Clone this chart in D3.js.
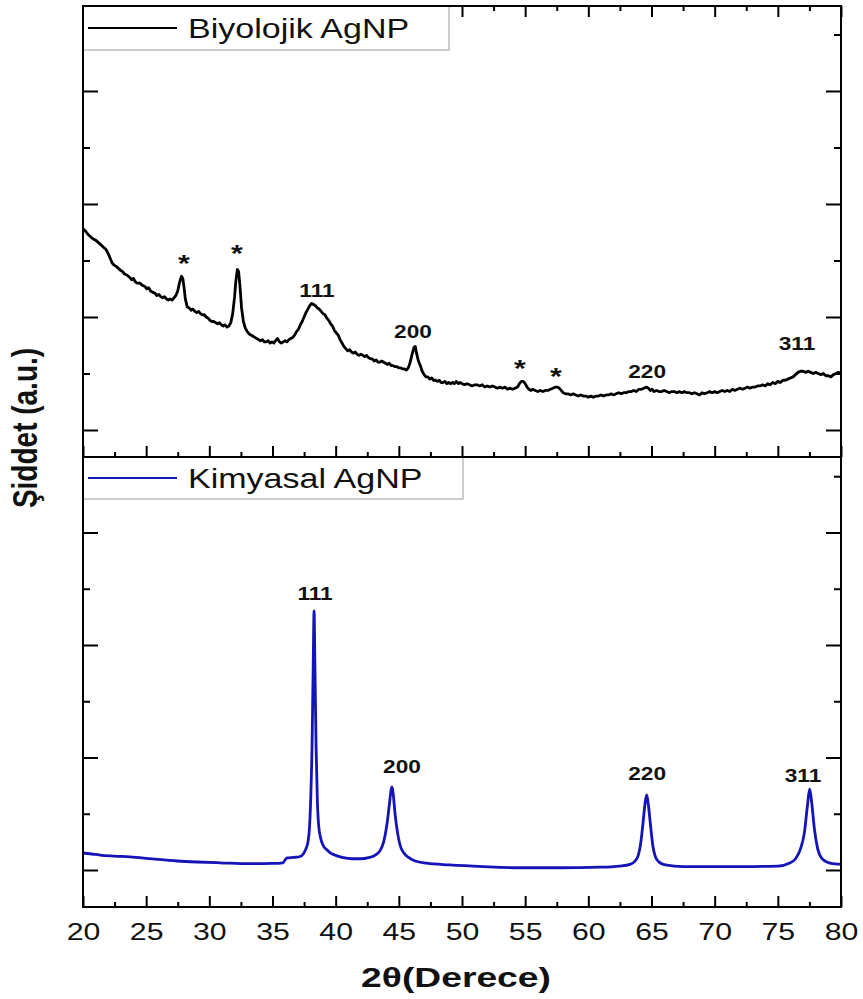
<!DOCTYPE html>
<html>
<head>
<meta charset="utf-8">
<script src="https://cdn.jsdelivr.net/npm/d3@7"></script>
<style>
  body { margin: 0; background: #fff; }
  svg { display: block; font-family: "Liberation Sans", Arial, sans-serif; }
</style>
</head>
<body>
<svg id="chart"></svg>
<script>
// biological AgNP pattern: [2theta, intensity a.u.]
const bioPattern = [
[20.0,1.78],[20.2,1.76],[20.4,1.73],[20.6,1.71],[20.8,1.69],[21.0,1.68],[21.2,1.66],[21.4,1.64],[21.6,1.62],[21.8,1.60],
[22.0,1.56],[22.15,1.52],[22.3,1.48],[22.45,1.46],[22.6,1.45],[22.8,1.43],[23.0,1.41],[23.15,1.40],[23.3,1.38],[23.5,1.37],
[23.7,1.35],[23.85,1.33],[24.0,1.34],[24.15,1.31],[24.3,1.30],[24.5,1.30],[24.7,1.28],[24.9,1.27],[25.05,1.25],[25.2,1.26],
[25.35,1.23],[25.5,1.22],[25.7,1.21],[25.85,1.19],[26.0,1.20],[26.15,1.18],[26.3,1.17],[26.45,1.18],[26.6,1.16],[26.75,1.15],
[26.9,1.16],[27.05,1.15],[27.2,1.17],[27.35,1.19],[27.5,1.23],[27.65,1.31],[27.8,1.36],[27.9,1.34],[28.0,1.26],[28.1,1.16],
[28.25,1.09],[28.4,1.08],[28.55,1.06],[28.7,1.07],[28.85,1.05],[29.0,1.04],[29.15,1.05],[29.3,1.03],[29.45,1.02],[29.6,1.02],
[29.75,1.00],[29.9,0.99],[30.05,0.97],[30.2,0.96],[30.35,0.96],[30.5,0.95],[30.65,0.94],[30.8,0.95],[30.95,0.93],[31.1,0.92],
[31.25,0.93],[31.4,0.91],[31.55,0.92],[31.7,0.95],[31.85,1.03],[32.0,1.18],[32.1,1.32],[32.22,1.42],[32.32,1.40],[32.42,1.28],
[32.55,1.08],[32.7,0.96],[32.85,0.90],[33.0,0.87],[33.15,0.85],[33.3,0.84],[33.45,0.83],[33.6,0.82],[33.75,0.81],[33.9,0.80],
[34.05,0.79],[34.2,0.80],[34.35,0.78],[34.5,0.78],[34.65,0.79],[34.8,0.77],[34.95,0.78],[35.1,0.77],[35.25,0.79],[35.4,0.81],
[35.55,0.78],[35.7,0.77],[35.85,0.78],[36.0,0.79],[36.15,0.78],[36.3,0.80],[36.45,0.81],[36.6,0.82],[36.75,0.84],[36.9,0.87],
[37.05,0.89],[37.2,0.93],[37.35,0.96],[37.5,1.00],[37.65,1.04],[37.8,1.07],[37.95,1.10],[38.1,1.12],[38.25,1.11],[38.4,1.10],
[38.55,1.08],[38.7,1.07],[38.85,1.05],[39.0,1.03],[39.15,1.02],[39.3,0.99],[39.45,0.97],[39.6,0.94],[39.75,0.92],[39.9,0.88],
[40.05,0.86],[40.2,0.84],[40.35,0.80],[40.5,0.77],[40.65,0.74],[40.8,0.72],[40.95,0.70],[41.1,0.71],[41.25,0.69],[41.4,0.68],
[41.55,0.69],[41.7,0.67],[41.85,0.66],[42.0,0.67],[42.15,0.66],[42.3,0.65],[42.45,0.66],[42.6,0.64],[42.75,0.63],[42.9,0.63],
[43.05,0.61],[43.2,0.62],[43.35,0.60],[43.5,0.60],[43.65,0.61],[43.8,0.60],[43.95,0.59],[44.1,0.58],[44.25,0.59],[44.4,0.57],
[44.55,0.57],[44.7,0.56],[44.85,0.56],[45.0,0.55],[45.15,0.55],[45.3,0.54],[45.45,0.54],[45.6,0.53],[45.75,0.55],[45.9,0.60],
[46.05,0.67],[46.2,0.73],[46.3,0.74],[46.4,0.68],[46.55,0.61],[46.7,0.57],[46.85,0.52],[47.0,0.49],[47.15,0.47],[47.3,0.47],
[47.45,0.45],[47.6,0.46],[47.75,0.44],[47.9,0.44],[48.05,0.43],[48.2,0.44],[48.35,0.42],[48.5,0.42],[48.65,0.43],[48.8,0.41],
[48.95,0.42],[49.1,0.41],[49.25,0.42],[49.4,0.41],[49.55,0.43],[49.7,0.41],[49.85,0.42],[50.0,0.41],[50.2,0.40],[50.4,0.41],
[50.6,0.40],[50.8,0.39],[51.0,0.40],[51.2,0.40],[51.4,0.39],[51.6,0.40],[51.8,0.38],[52.0,0.39],[52.2,0.38],[52.4,0.39],
[52.6,0.38],[52.8,0.37],[53.0,0.38],[53.2,0.37],[53.4,0.38],[53.6,0.36],[53.8,0.37],[54.0,0.36],[54.2,0.37],[54.4,0.38],
[54.55,0.41],[54.7,0.43],[54.85,0.43],[55.0,0.41],[55.15,0.38],[55.3,0.36],[55.45,0.35],[55.6,0.36],[55.8,0.35],[56.0,0.34],
[56.2,0.35],[56.4,0.34],[56.6,0.35],[56.8,0.35],[57.0,0.36],[57.2,0.37],[57.4,0.38],[57.55,0.38],[57.7,0.37],[57.85,0.35],
[58.0,0.33],[58.2,0.32],[58.4,0.32],[58.6,0.31],[58.8,0.32],[59.0,0.31],[59.2,0.30],[59.4,0.31],[59.6,0.30],[59.8,0.30],
[60.0,0.29],[60.2,0.30],[60.4,0.29],[60.6,0.30],[60.8,0.30],[61.0,0.31],[61.2,0.30],[61.4,0.31],[61.6,0.31],[61.8,0.32],
[62.0,0.31],[62.2,0.32],[62.4,0.33],[62.6,0.32],[62.8,0.33],[63.0,0.33],[63.2,0.34],[63.4,0.34],[63.6,0.35],[63.8,0.34],
[64.0,0.36],[64.2,0.36],[64.4,0.37],[64.6,0.38],[64.75,0.37],[64.9,0.35],[65.05,0.36],[65.2,0.34],[65.4,0.35],[65.6,0.34],
[65.8,0.34],[66.0,0.35],[66.2,0.34],[66.4,0.33],[66.6,0.34],[66.8,0.34],[67.0,0.33],[67.2,0.34],[67.4,0.33],[67.6,0.34],
[67.8,0.33],[68.0,0.33],[68.2,0.32],[68.4,0.33],[68.6,0.32],[68.8,0.31],[69.0,0.33],[69.2,0.32],[69.4,0.33],[69.6,0.34],
[69.8,0.33],[70.0,0.34],[70.2,0.33],[70.4,0.34],[70.6,0.35],[70.8,0.34],[71.0,0.35],[71.2,0.34],[71.4,0.36],[71.6,0.35],
[71.8,0.36],[72.0,0.37],[72.2,0.36],[72.4,0.37],[72.6,0.38],[72.8,0.37],[73.0,0.38],[73.2,0.38],[73.4,0.39],[73.6,0.39],
[73.8,0.40],[74.0,0.39],[74.2,0.41],[74.4,0.40],[74.6,0.42],[74.8,0.41],[75.0,0.43],[75.2,0.42],[75.4,0.44],[75.6,0.44],
[75.8,0.45],[76.0,0.46],[76.2,0.47],[76.4,0.49],[76.6,0.51],[76.8,0.52],[77.0,0.52],[77.2,0.51],[77.4,0.52],[77.6,0.51],
[77.8,0.50],[78.0,0.51],[78.2,0.50],[78.4,0.49],[78.6,0.50],[78.8,0.48],[79.0,0.48],[79.2,0.47],[79.4,0.49],[79.6,0.50],
[79.8,0.51],[80.0,0.50]
];

// chemical AgNP pattern: [2theta, intensity a.u.]
const chemPattern = [
[20.0,0.151],[20.7,0.142],[21.35,0.133],[22.5,0.124],[23.72,0.116],[25.5,0.098],[27.44,0.08],[29.0,0.071],[30.84,0.064],[33.22,0.056],
[35.0,0.058],[35.83,0.064],[36.0,0.09],[36.15,0.107],[36.7,0.112],[37.18,0.12],[37.45,0.145],[37.65,0.19],[37.81,0.25],[37.93,0.38],
[38.03,0.65],[38.13,1.1],[38.22,1.8],[38.29,2.302],[38.36,1.8],[38.45,1.1],[38.55,0.62],[38.65,0.40],[38.8,0.29],[39.0,0.22],
[39.3,0.18],[39.6,0.15],[40.0,0.13],[40.6,0.11],[41.3,0.10],[42.0,0.10],[42.6,0.11],[43.1,0.13],[43.5,0.17],[43.8,0.25],
[44.05,0.40],[44.25,0.58],[44.4,0.72],[44.46,0.738],[44.55,0.68],[44.7,0.50],[44.9,0.33],[45.1,0.22],[45.4,0.15],[45.8,0.11],
[46.3,0.08],[47.2,0.06],[49.0,0.045],[51.66,0.03],[54.59,0.02],[57.76,0.02],[60.92,0.025],[62.5,0.035],[63.3,0.05],[63.7,0.08],
[63.95,0.13],[64.15,0.24],[64.33,0.42],[64.5,0.60],[64.62,0.667],[64.75,0.58],[64.92,0.40],[65.1,0.22],[65.3,0.12],[65.6,0.07],
[66.1,0.045],[67.5,0.03],[72.0,0.03],[75.0,0.035],[75.9,0.06],[76.4,0.10],[76.8,0.19],[77.1,0.33],[77.35,0.58],[77.52,0.72],
[77.68,0.60],[77.9,0.36],[78.15,0.19],[78.5,0.10],[79.0,0.065],[79.5,0.055],[80.0,0.053]
];

// peak annotations
const bioLabels = ["*", "*", "111", "200", "*", "*", "220", "311"];
const bioLabelTheta = [27.99, 32.19, 38.52, 46.12, 54.59, 57.44, 64.65, 76.52];
const bioLabelInt = [1.40, 1.49, 1.181, 0.810, 0.47, 0.40, 0.456, 0.712];
const chemLabels = ["111", "200", "220", "311"];
const chemLabelTheta = [38.37, 45.25, 64.65, 76.99];
const chemLabelInt = [2.404, 0.858, 0.804, 0.778];

const xMajor = [20, 25, 30, 35, 40, 45, 50, 55, 60, 65, 70, 75, 80];
const xMinor = [22.5, 27.5, 32.5, 37.5, 42.5, 47.5, 52.5, 57.5, 62.5, 67.5, 72.5, 77.5];
const yMajor = [0, 1, 2, 3];
const yMinor = [0.5, 1.5, 2.5, 3.5];

const legendNames = ["Biyolojik AgNP", "Kimyasal AgNP"];
const seriesColors = ["#000000", "#1414b8"];

const width = 863;
const height = 999;
const left = 83, right = 841;
const sx = 1.26; // glyphs in the source are stretched sideways

const svg = d3.select("#chart")
    .attr("width", width)
    .attr("height", height);

const x = d3.scaleLinear().domain([20, 80]).range([left, right]);

const panels = [
    { top: 6, bottom: 457, y: d3.scaleLinear().domain([-0.239, 3.752]).range([457, 6]),
      pts: bioPattern, curve: d3.curveLinear, labels: bioLabels, lt: bioLabelTheta, lv: bioLabelInt,
      color: seriesColors[0], name: legendNames[0], legendW: 366, topTicks: true },
    { top: 457, bottom: 907, y: d3.scaleLinear().domain([-0.329, 3.671]).range([907, 457]),
      pts: chemPattern, curve: d3.curveMonotoneX, labels: chemLabels, lt: chemLabelTheta, lv: chemLabelInt,
      color: seriesColors[1], name: legendNames[1], legendW: 380, topTicks: false }
];

function styleTicks(sel) {
    sel.select(".domain").remove();
    sel.selectAll("line").attr("stroke", "#000").attr("stroke-width", 2);
}

panels.forEach((p, idx) => {
    const g = svg.append("g");

    // x ticks, bottom edge (inward)
    g.append("g").attr("transform", `translate(0,${p.bottom})`)
        .call(d3.axisBottom(x).tickValues(xMajor).tickSize(-11).tickFormat(""))
        .call(styleTicks);
    g.append("g").attr("transform", `translate(0,${p.bottom})`)
        .call(d3.axisBottom(x).tickValues(xMinor).tickSize(-5).tickFormat(""))
        .call(styleTicks);

    if (p.topTicks) {
        g.append("g").attr("transform", `translate(0,${p.top})`)
            .call(d3.axisTop(x).tickValues(xMajor).tickSize(-11).tickFormat(""))
            .call(styleTicks);
        g.append("g").attr("transform", `translate(0,${p.top})`)
            .call(d3.axisTop(x).tickValues(xMinor).tickSize(-5).tickFormat(""))
            .call(styleTicks);
    }

    // y ticks, left and right (inward)
    [[d3.axisLeft, left], [d3.axisRight, right]].forEach(([ax, pos]) => {
        g.append("g").attr("transform", `translate(${pos},0)`)
            .call(ax(p.y).tickValues(yMajor).tickSize(-15).tickFormat(""))
            .call(styleTicks);
        g.append("g").attr("transform", `translate(${pos},0)`)
            .call(ax(p.y).tickValues(yMinor).tickSize(-7).tickFormat(""))
            .call(styleTicks);
    });

    // pattern line
    g.append("path")
        .datum(p.pts)
        .attr("fill", "none")
        .attr("stroke", p.color)
        .attr("stroke-width", 2.8)
        .attr("stroke-linejoin", "round")
        .attr("d", d3.line().curve(p.curve).x(d => x(d[0])).y(d => p.y(d[1])));

    // peak labels
    g.selectAll(".peak")
        .data(p.labels)
        .enter().append("text")
        .attr("class", "peak")
        .attr("transform", (d, i) => `translate(${x(p.lt[i])},${p.y(p.lv[i])}) scale(${sx},1)`)
        .attr("text-anchor", "middle")
        .style("font-size", d => d === "*" ? "24px" : "18px")
        .style("font-weight", "bold")
        .attr("fill", "#111")
        .text(d => d);

    // frame
    g.append("rect")
        .attr("x", left).attr("y", p.top)
        .attr("width", right - left).attr("height", p.bottom - p.top)
        .attr("fill", "none").attr("stroke", "#000").attr("stroke-width", 2);

    // legend
    const lg = g.append("g");
    lg.append("rect")
        .attr("x", left).attr("y", p.top)
        .attr("width", p.legendW).attr("height", idx === 0 ? 44 : 42)
        .attr("fill", "#fff").attr("stroke", "#9a9a9a").attr("stroke-width", 1);
    const ly = p.top + (idx === 0 ? 22 : 21);
    lg.append("line")
        .attr("x1", 88).attr("x2", 177)
        .attr("y1", ly).attr("y2", ly)
        .attr("stroke", p.color).attr("stroke-width", 2);
    lg.append("text")
        .attr("transform", `translate(188,${ly + 10}) scale(${sx},1)`)
        .style("font-size", "27px")
        .attr("fill", "#111")
        .text(p.name);
    // re-draw frame edge over the legend box
    g.append("path")
        .attr("d", `M${left},${p.bottom}V${p.top}H${right}`)
        .attr("fill", "none").attr("stroke", "#000").attr("stroke-width", 2);
});

// x tick labels
const xl = svg.append("g").attr("transform", `translate(0,907)`)
    .call(d3.axisBottom(x).tickValues(xMajor).tickSize(0).tickPadding(16));
xl.select(".domain").remove();
xl.selectAll("text")
    .attr("transform", `scale(${sx},1)`)
    .style("font-size", "24px")
    .style("font-family", "'Liberation Sans', Arial, sans-serif")
    .attr("fill", "#111");

// axis titles
svg.append("text")
    .attr("transform", `translate(${(left + right) / 2 - 6},987) scale(1.33,1)`)
    .attr("text-anchor", "middle")
    .style("font-size", "28px")
    .style("font-weight", "bold")
    .attr("fill", "#111")
    .text("2θ(Derece)");

svg.append("text")
    .attr("transform", `translate(37,428) rotate(-90) scale(1,1.25)`)
    .attr("text-anchor", "middle")
    .style("font-size", "28px")
    .style("font-weight", "bold")
    .attr("fill", "#111")
    .text("Şiddet (a.u.)");
</script>
</body>
</html>
